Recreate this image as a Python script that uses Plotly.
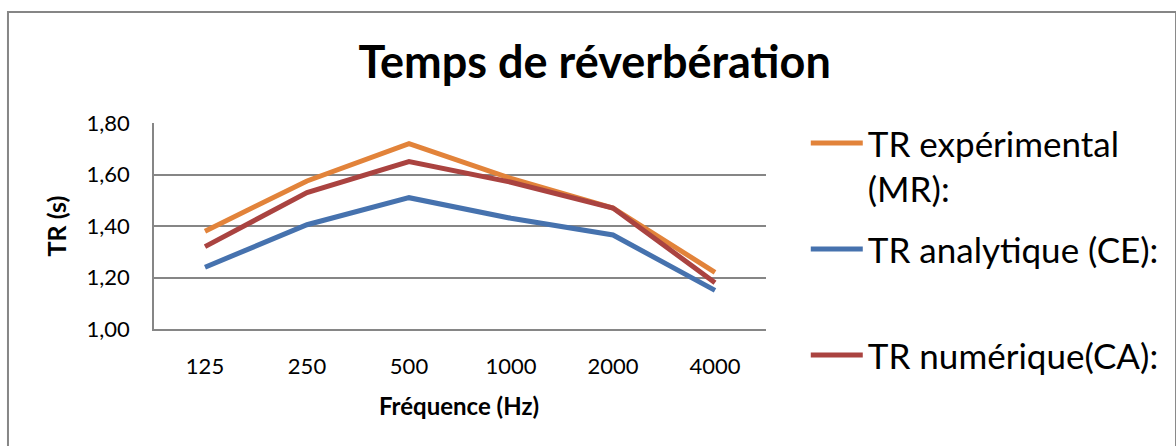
import plotly.graph_objects as go

frequences = ["125", "250", "500", "1000", "2000", "4000"]
tr_experimental = [1.38, 1.575, 1.72, 1.585, 1.47, 1.22]
tr_analytique = [1.24, 1.405, 1.51, 1.43, 1.365, 1.15]
tr_numerique = [1.32, 1.53, 1.65, 1.57, 1.47, 1.18]

FONT = "Lato"
GRID = "#868686"

series = [
    ("TR expérimental<br>(MR):", tr_experimental, "#E2833A"),
    ("TR analytique (CE):<br> ", tr_analytique, "#4672AE"),
    ("TR numérique(CA):", tr_numerique, "#AA4340"),
]

fig = go.Figure()
for i, (name, vals, color) in enumerate(series):
    fig.add_trace(go.Scatter(
        x=frequences, y=vals, name=name, mode="lines",
        line=dict(color=color, width=5), legendgroup=str(i),
    ))

# Excel-style chart border
fig.add_shape(type="rect", xref="paper", yref="paper",
              x0=-0.2386, x1=1.67, y0=-0.6, y1=1.5388,
              line=dict(color=GRID, width=2), layer="below")

# x axis title placed as annotation so it sits where Excel puts it
fig.add_annotation(text="<b>Fréquence (Hz)</b>", xref="paper", yref="paper",
                   x=0.499, y=-0.369, xanchor="center", yanchor="middle",
                   showarrow=False, font=dict(size=24, family=FONT))

fig.update_layout(
    width=1176, height=446,
    margin=dict(l=154, r=406, t=123, b=117),
    paper_bgcolor="white", plot_bgcolor="white",
    separators=", ",
    font=dict(family=FONT, color="black", size=22),
    title=dict(text="<b>Temps de réverbération</b>", x=0.72, xanchor="center",
               y=0.861, yanchor="middle", xref="paper", font=dict(size=45, family=FONT)),
    showlegend=True,
    legend=dict(x=1.065, y=1.045, xanchor="left", yanchor="top",
                font=dict(size=35, family=FONT), tracegroupgap=12,
                itemwidth=52, valign="top", maxheight=420,
                bgcolor="rgba(0,0,0,0)"),
)
fig.update_xaxes(
    type="category", range=[-0.5, 5.5], showgrid=False, showline=True,
    linecolor=GRID, linewidth=1.5, ticks="", ticklabelstandoff=17,
)
fig.update_yaxes(
    range=[1.0, 1.8], dtick=0.2, tickformat=".2f", showgrid=True, gridcolor=GRID,
    gridwidth=1.5, showline=True, linecolor=GRID, linewidth=1.5, zeroline=False,
    ticks="", ticklabelstandoff=18,
    title=dict(text="<b>TR (s)</b>", font=dict(size=25), standoff=13),
)

fig.write_html("out.html", config={"displayModeBar": False},
               post_script="document.body.style.margin='0';")
